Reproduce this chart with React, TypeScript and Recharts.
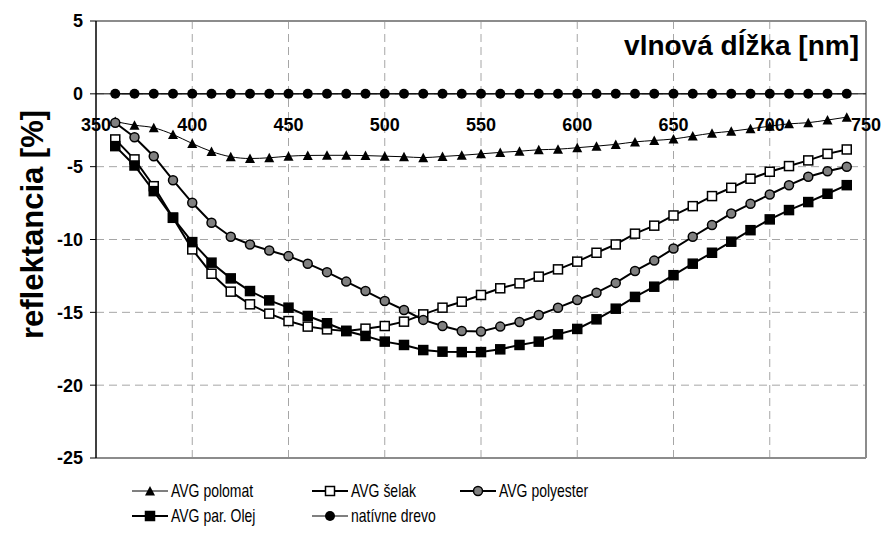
import React from 'react'
import { LineChart, Line, XAxis, YAxis, CartesianGrid, ReferenceLine, ReferenceDot, Legend } from 'recharts'

const wavelengths = [360, 370, 380, 390, 400, 410, 420, 430, 440, 450, 460, 470, 480, 490, 500, 510, 520, 530, 540, 550, 560, 570, 580, 590, 600, 610, 620, 630, 640, 650, 660, 670, 680, 690, 700, 710, 720, 730, 740]

const polomat = [-1.9, -2.15, -2.33, -2.79, -3.41, -3.96, -4.32, -4.44, -4.39, -4.28, -4.23, -4.22, -4.22, -4.24, -4.28, -4.32, -4.38, -4.3, -4.22, -4.12, -4.02, -3.94, -3.84, -3.8, -3.7, -3.59, -3.47, -3.3, -3.2, -3.1, -2.9, -2.7, -2.57, -2.4, -2.22, -2.06, -1.98, -1.8, -1.6]
const selak = [-3.13, -4.5, -6.34, -8.5, -10.68, -12.35, -13.58, -14.45, -15.09, -15.6, -15.98, -16.17, -16.28, -16.12, -15.94, -15.64, -15.14, -14.68, -14.27, -13.81, -13.35, -13.01, -12.55, -12.05, -11.52, -10.91, -10.34, -9.6, -9.05, -8.35, -7.71, -7.02, -6.45, -5.83, -5.35, -4.96, -4.57, -4.12, -3.82]
const polyester = [-1.99, -2.98, -4.28, -5.93, -7.48, -8.85, -9.81, -10.34, -10.75, -11.14, -11.66, -12.24, -12.89, -13.54, -14.22, -14.84, -15.52, -15.94, -16.28, -16.32, -15.98, -15.66, -15.18, -14.68, -14.15, -13.65, -12.98, -12.16, -11.45, -10.62, -9.81, -9.01, -8.21, -7.55, -6.91, -6.27, -5.69, -5.31, -5.01]
const olej = [-3.59, -4.92, -6.68, -8.51, -10.18, -11.59, -12.67, -13.54, -14.18, -14.68, -15.25, -15.75, -16.28, -16.62, -17.01, -17.24, -17.59, -17.7, -17.73, -17.73, -17.54, -17.24, -17.01, -16.51, -16.14, -15.48, -14.75, -13.94, -13.24, -12.45, -11.66, -10.91, -10.15, -9.36, -8.62, -7.98, -7.43, -6.86, -6.27]
const drevo = [0, 0, 0, 0, 0, 0, 0, 0, 0, 0, 0, 0, 0, 0, 0, 0, 0, 0, 0, 0, 0, 0, 0, 0, 0, 0, 0, 0, 0, 0, 0, 0, 0, 0, 0, 0, 0, 0, 0]

const xTicks = [350, 400, 450, 500, 550, 600, 650, 700, 750]
const yTicks = [-25, -20, -15, -10, -5, 0, 5]

const data = wavelengths.map((nm, i) => ({
  nm,
  polomat: polomat[i],
  selak: selak[i],
  polyester: polyester[i],
  olej: olej[i],
  drevo: drevo[i],
}))

const FONT = '"Liberation Sans", Arial, sans-serif'

const triangle = (cx: number, cy: number, k?: string) => (
  <path key={k} d={`M${cx},${cy - 5}L${cx + 5},${cy + 4.5}L${cx - 5},${cy + 4.5}Z`} fill="#000" />
)
const square = (cx: number, cy: number, fill: string, k?: string) => (
  <rect key={k} x={cx - 4.5} y={cy - 4.5} width={9} height={9} fill={fill} stroke="#000" strokeWidth={1.5} />
)
const circle = (cx: number, cy: number, fill: string, r: number, k?: string) => (
  <circle key={k} cx={cx} cy={cy} r={r} fill={fill} stroke="#000" strokeWidth={fill === '#000' ? 0 : 1.5} />
)

const triDot = (p: any) => triangle(p.cx, p.cy, `t${p.index}`)
const selakDot = (p: any) => square(p.cx, p.cy, '#fff', `s${p.index}`)
const olejDot = (p: any) => square(p.cx, p.cy, '#000', `o${p.index}`)
const polyDot = (p: any) => circle(p.cx, p.cy, '#808080', 4.5, `p${p.index}`)
const drevoDot = (p: any) => circle(p.cx, p.cy, '#000', 5, `d${p.index}`)

const legendItems = [
  { name: 'AVG polomat', col: 0, row: 0, width: 1, marker: (x: number, y: number) => triangle(x, y) },
  { name: 'AVG šelak', col: 1, row: 0, width: 2, marker: (x: number, y: number) => square(x, y, '#fff') },
  { name: 'AVG polyester', col: 2, row: 0, width: 2, marker: (x: number, y: number) => circle(x, y, '#808080', 4.5) },
  { name: 'AVG par. Olej', col: 0, row: 1, width: 2, marker: (x: number, y: number) => square(x, y, '#000') },
  { name: 'natívne drevo', col: 1, row: 1, width: 1, marker: (x: number, y: number) => circle(x, y, '#000', 5) },
]
const legendCols = [132, 312, 460]
const legendRows = [13, 38]

function LegendContent() {
  return (
    <svg width={884} height={52} style={{ display: 'block' }}>
      {legendItems.map((it) => {
        const x = legendCols[it.col]
        const y = legendRows[it.row]
        return (
          <g key={it.name}>
            <line x1={x} y1={y} x2={x + 36} y2={y} stroke="#000" strokeWidth={it.width} />
            {it.marker(x + 18, y)}
            <text transform={`translate(${x + 39} ${y + 6}) scale(1 1.25)`} fontFamily={FONT} fontSize={14} fill="#000">{it.name}</text>
          </g>
        )
      })}
    </svg>
  )
}

export default function App() {
  return (
    <div style={{ position: 'absolute', left: 0, top: 0, width: 884, height: 534, background: '#fff' }}>
      <LineChart width={884} height={534} data={data} margin={{ top: 21, right: 18, left: 0, bottom: 75 }}>
        <CartesianGrid stroke="#a6a6a6" strokeDasharray="8 5" vertical={false} />
        <XAxis
          dataKey="nm"
          type="number"
          domain={[350, 750]}
          ticks={xTicks}
          tick={false}
          tickLine={false}
          axisLine={false}
          height={1}
        />
        <YAxis
          type="number"
          domain={[-25, 5]}
          ticks={yTicks}
          width={96}
          axisLine={{ stroke: '#000', strokeWidth: 1.5 }}
          tickLine={{ stroke: '#000' }}
          tickSize={6}
          tickMargin={7}
          tick={{ fill: '#000', fontSize: 18, fontWeight: 'bold', fontFamily: FONT }}
          label={(props: any) => {
            const vb = props.viewBox
            const cx = 32
            const cy = vb.y + vb.height / 2 - 15
            return (
              <text x={cx} y={cy} transform={`rotate(-90 ${cx} ${cy})`} textAnchor="middle" dominantBaseline="central"
                fontFamily={FONT} fontSize={31} fontWeight="bold" fill="#000">reflektancia [%]</text>
            )
          }}
        />
        {xTicks.slice(1, -1).map((t) => (
          <ReferenceLine key={`g${t}`} x={t} stroke="#a6a6a6" strokeDasharray="8 5" />
        ))}
        <ReferenceLine y={5} stroke="#8c8c8c" strokeWidth={2} ifOverflow="visible"
          label={(props: any) => {
            const vb = props.viewBox
            return (
              <text x={vb.x + vb.width - 7} y={vb.y + 34} textAnchor="end" fontFamily={FONT} fontSize={28}
                fontWeight="bold" fill="#000">vlnová dĺžka [nm]</text>
            )
          }}
        />
        <ReferenceLine y={-25} stroke="#8c8c8c" strokeWidth={2} ifOverflow="visible" />
        <ReferenceLine x={750} stroke="#8c8c8c" strokeWidth={2} ifOverflow="visible" />
        <ReferenceLine y={0} stroke="#000" strokeWidth={1} />
        {xTicks.map((t) => (
          <ReferenceDot key={t} x={t} y={0} r={0} fill="none" stroke="none" ifOverflow="visible"
            label={(props: any) => {
              const vb = props.viewBox
              return (
                <text x={vb.x + vb.width / 2} y={vb.y + vb.height / 2 + 37} textAnchor="middle" fontFamily={FONT}
                  fontSize={18} fontWeight="bold" fill="#000">{t}</text>
              )
            }}
          />
        ))}
        <Line dataKey="polomat" name="AVG polomat" type="monotone" stroke="#000" strokeWidth={1} dot={triDot} activeDot={false} isAnimationActive={false} />
        <Line dataKey="selak" name="AVG šelak" type="linear" stroke="#000" strokeWidth={2} dot={selakDot} activeDot={false} isAnimationActive={false} />
        <Line dataKey="polyester" name="AVG polyester" type="linear" stroke="#000" strokeWidth={2} dot={polyDot} activeDot={false} isAnimationActive={false} />
        <Line dataKey="olej" name="AVG par. Olej" type="linear" stroke="#000" strokeWidth={2} dot={olejDot} activeDot={false} isAnimationActive={false} />
        <Line dataKey="drevo" name="natívne drevo" type="linear" stroke="#000" strokeWidth={1} dot={drevoDot} activeDot={false} isAnimationActive={false} />
        <Legend verticalAlign="middle" align="center" layout="horizontal" content={<LegendContent />}
          wrapperStyle={{ top: 478, left: 0, width: 884 }} />
      </LineChart>
    </div>
  )
}
